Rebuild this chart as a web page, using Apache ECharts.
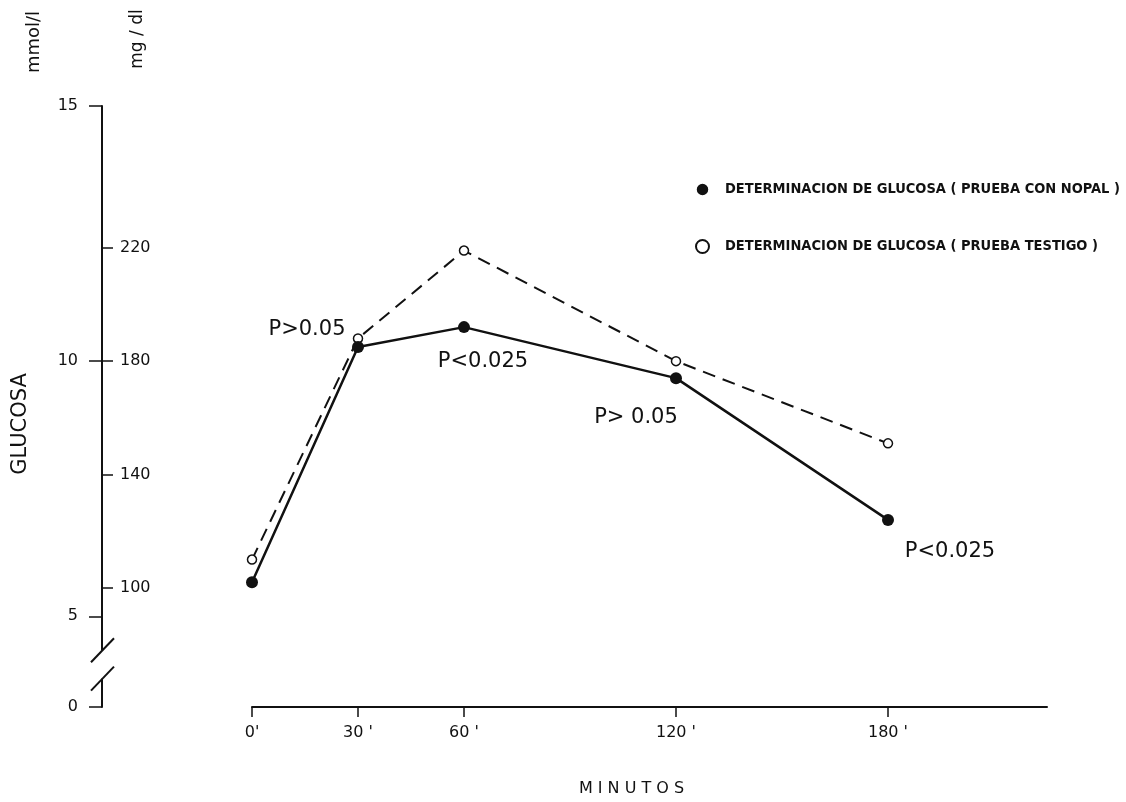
<!DOCTYPE html>
<html lang="es">
<head>
<meta charset="UTF-8">
<title>Glucosa</title>
<script src="https://cdn.jsdelivr.net/npm/echarts@6/dist/echarts.min.js"></script>
<style>
    html, body { margin: 0; padding: 0; background: #fff; }
    #main { width: 1126px; height: 802px; }
</style>
</head>
<body>
<div id="main"></div>
<script type="text/javascript">
// valores (mg/dl)
var minutos = [0, 30, 60, 120, 180];
var nopal = [102, 185, 192, 174, 124];
var testigo = [110, 188, 219, 180, 151];
var pValores = ['', 'P>0.05', 'P<0.025', 'P> 0.05', 'P<0.025'];
var nombres = ['DETERMINACION DE GLUCOSA ( PRUEBA CON NOPAL )', 'DETERMINACION DE GLUCOSA ( PRUEBA TESTIGO )'];

// ejes
var xTicks = [0, 30, 60, 120, 180];
var xTickLabels = ["0'", "30 '", "60 '", "120 '", "180 '"];
var mgTicks = [100, 140, 180, 220];
var mmolTicks = [0, 5, 10, 15];
var mgMin = 58, mgMax = 270;      // el eje esta cortado: el fondo se rotula 0
var corte = [68, 78];             // tramo cortado del eje, en mg/dl

var mmolMin = mgMin / 18, mmolMax = mgMax / 18;
var mmolTickValues = mmolTicks.map(function (v) { return Math.max(v, mmolMin); });

var ink = '#111';
var font = 'DejaVu Sans';

var chart = echarts.init(document.getElementById('main'));

// posiciones de los textos P respecto a cada punto
var pOffsets = [[0, 0], [-51, -17], [19, 34], [-40, 39], [62, 32]];

var option = {
    animation: false,
    backgroundColor: '#fff',
    textStyle: { fontFamily: font, color: ink },
    grid: { left: 252, right: 79, top: 106, bottom: 95 },
    legend: {
        orient: 'vertical',
        left: 690,
        top: 177,
        itemWidth: 13,
        itemHeight: 13,
        itemGap: 42,
        textStyle: { fontFamily: 'DejaVu Sans Condensed', fontSize: 14.5, fontWeight: 'bold', color: ink, padding: [0, 0, 0, 11] },
        data: [
            { name: nombres[0], icon: 'circle', itemStyle: { color: ink, borderColor: '#fff', borderWidth: 1.5 } },
            { name: nombres[1], icon: 'circle', itemStyle: { color: '#fff', borderColor: ink, borderWidth: 2 } }
        ]
    },
    xAxis: {
        type: 'value',
        min: 0,
        max: 225,
        name: 'M I N U T O S',
        nameLocation: 'middle',
        nameGap: 74,
        nameTextStyle: { fontSize: 16, color: ink, padding: [0, 36, 0, 0] },
        axisLine: { onZero: false, lineStyle: { color: ink, width: 2 } },
        axisTick: { customValues: xTicks, length: 10, lineStyle: { color: ink, width: 1.5 } },
        axisLabel: {
            customValues: xTicks,
            margin: 18,
            fontSize: 16,
            color: ink,
            formatter: function (v) { return xTickLabels[xTicks.indexOf(v)]; }
        },
        splitLine: { show: false }
    },
    yAxis: [
        {   // mmol/l
            type: 'value',
            position: 'left',
            offset: 150,
            min: mmolMin,
            max: mmolMax,
            axisLine: { show: true, onZero: false, lineStyle: { color: ink, width: 2 } },
            axisTick: { customValues: mmolTickValues, length: 13, lineStyle: { color: ink, width: 1.5 } },
            axisLabel: {
                customValues: mmolTickValues,
                margin: 24,
                fontSize: 16,
                color: ink,
                formatter: function (v) { return v < 5 ? '0' : String(v); }
            },
            splitLine: { show: false }
        },
        {   // mg/dl
            type: 'value',
            position: 'left',
            offset: 150,
            min: mgMin,
            max: mgMax,
            axisLine: { show: false, onZero: false },
            axisTick: { show: true, inside: true, customValues: mgTicks, length: 11, lineStyle: { color: ink, width: 1.5 } },
            axisLabel: { inside: true, customValues: mgTicks, margin: 18, fontSize: 16, color: ink },
            splitLine: { show: false }
        }
    ],
    graphic: [
        { type: 'text', x: 21, y: 424, rotation: Math.PI / 2, z: 100,
          style: { text: 'GLUCOSA', fontSize: 21, fontFamily: font, fill: ink, align: 'center', verticalAlign: 'middle', textAlign: 'center', textVerticalAlign: 'middle' } },
        { type: 'text', x: 34, y: 42, rotation: Math.PI / 2, z: 100,
          style: { text: 'mmol/l', fontSize: 18, fontFamily: font, fill: ink, align: 'center', verticalAlign: 'middle', textAlign: 'center', textVerticalAlign: 'middle' } },
        { type: 'text', x: 138, y: 39, rotation: Math.PI / 2, z: 100,
          style: { text: 'mg / dl', fontSize: 17, fontFamily: font, fill: ink, align: 'center', verticalAlign: 'middle', textAlign: 'center', textVerticalAlign: 'middle' } }
    ],
    series: [
        {
            name: nombres[1],
            type: 'line',
            yAxisIndex: 1,
            data: minutos.map(function (m, i) { return [m, testigo[i]]; }),
            symbol: 'circle',
            symbolSize: 9,
            itemStyle: { color: '#fff', borderColor: ink, borderWidth: 1.5 },
            lineStyle: { color: ink, width: 2, type: [13, 8] },
            z: 2
        },
        {
            name: nombres[0],
            type: 'line',
            yAxisIndex: 1,
            data: minutos.map(function (m, i) {
                return { value: [m, nopal[i]], label: { offset: pOffsets[i] } };
            }),
            symbol: 'circle',
            symbolSize: 12,
            itemStyle: { color: ink },
            lineStyle: { color: ink, width: 2.5 },
            label: {
                show: true,
                position: 'inside',
                fontSize: 21,
                fontFamily: font,
                color: ink,
                textBorderWidth: 0,
                formatter: function (p) { return pValores[p.dataIndex]; }
            },
            z: 3
        }
    ]
};

chart.setOption(option);

// marcas de corte del eje vertical
var ejeX = chart.convertToPixel({ xAxisIndex: 0 }, 0) - 150;
var yArriba = chart.convertToPixel({ yAxisIndex: 1 }, corte[1]);
var yAbajo = chart.convertToPixel({ yAxisIndex: 1 }, corte[0]);
var tajo = function (y) {
    return { type: 'line', z: 101, shape: { x1: ejeX - 11, y1: y + 12, x2: ejeX + 12, y2: y - 12 },
             style: { stroke: ink, lineWidth: 2 } };
};
chart.setOption({
    graphic: option.graphic.concat([
        { type: 'rect', z: 100, shape: { x: ejeX - 4, y: yArriba, width: 8, height: yAbajo - yArriba }, style: { fill: '#fff' } },
        tajo(yArriba),
        tajo(yAbajo)
    ])
});
</script>
</body>
</html>
